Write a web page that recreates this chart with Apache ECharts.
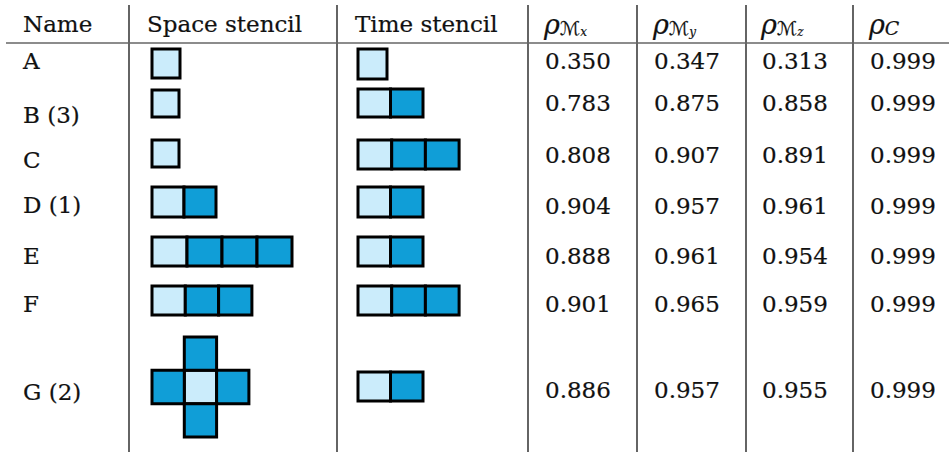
<!DOCTYPE html>
<html>
<head>
<meta charset="utf-8">
<script src="https://cdn.jsdelivr.net/npm/echarts@6/dist/echarts.min.js"></script>
<style>
html,body{margin:0;padding:0;background:#fff;}
#chart{width:949px;height:452px;}
</style>
</head>
<body>
<div id="chart"></div>
<script>
// ---------------- DATA ----------------
const headers = ['Name', 'Space stencil', 'Time stencil'];
const rhoSymbols = ['ℳ', 'ℳ', 'ℳ', 'C'];
const rhoSubs = ['x', 'y', 'z', ''];
const names = ['A', 'B (3)', 'C', 'D (1)', 'E', 'F', 'G (2)'];
const rhoMx = [0.350, 0.783, 0.808, 0.904, 0.888, 0.901, 0.886];
const rhoMy = [0.347, 0.875, 0.907, 0.957, 0.961, 0.965, 0.957];
const rhoMz = [0.313, 0.858, 0.891, 0.961, 0.954, 0.959, 0.955];
const rhoC  = [0.999, 0.999, 0.999, 0.999, 0.999, 0.999, 0.999];
// space stencil cells as [dx, dy] offsets; [0,0] is the centre cell
const spaceStencils = [
  [[0, 0]],
  [[0, 0]],
  [[0, 0]],
  [[0, 0], [1, 0]],
  [[0, 0], [1, 0], [2, 0], [3, 0]],
  [[0, 0], [1, 0], [2, 0]],
  [[0, 0], [-1, 0], [1, 0], [0, -1], [0, 1]]
];
// time stencil: number of time levels (current + previous)
const timeStencilLen = [1, 2, 3, 2, 2, 3, 2];

// ---------------- LAYOUT ----------------
const W = 949, H = 452;
const colLines = [129, 337, 528, 637, 746, 853];
const ruleTop = 5;
const headerRuleY = 43;
const headerY = 24;
const textX = [23, 147, 355];
const numX = [545, 654, 762, 870];
const rowNameY = [61, 115, 160, 205, 255.5, 303.5, 391.5];
const rowNumY = [61, 103, 155, 206, 256, 304, 390];
const spaceLeft = 152, timeLeft = 358;
// [cellWidth, cellHeight, centreY]
const spaceCell = [[28, 29, 63.5], [27, 27, 103.5], [27, 27, 153.5], [32, 30, 202], [35, 29, 251.5], [33.3, 29, 300.5], [32.3, 33.3, 387]];
const timeCell = [[29, 30, 64], [32.5, 28, 103], [33.7, 29, 154.5], [32.5, 30, 202], [32.5, 29, 251.5], [33.7, 29, 300.5], [32.5, 29, 386.5]];

const FONT = '"DejaVu Serif", serif';
const FS = 23;
const INK = '#111111';
const LIGHT = '#cbecfb';
const DARK = '#109ed7';

// ---------------- BUILD ----------------
const cells = [];
spaceStencils.forEach((st, r) => {
  const [w, h, cy] = spaceCell[r];
  const minDx = Math.min(...st.map(c => c[0]));
  st.forEach(([dx, dy]) => {
    cells.push([spaceLeft + (dx - minDx) * w, cy + dy * h - h / 2, w, h, (dx === 0 && dy === 0) ? 0 : 1]);
  });
});
timeStencilLen.forEach((n, r) => {
  const [w, h, cy] = timeCell[r];
  for (let k = 0; k < n; k++) {
    cells.push([timeLeft + k * w, cy - h / 2, w, h, k === 0 ? 0 : 1]);
  }
});

const texts = [];
headers.forEach((t, i) => texts.push({x: textX[i], y: headerY, text: t}));
names.forEach((t, r) => texts.push({x: textX[0], y: rowNameY[r], text: t}));
[rhoMx, rhoMy, rhoMz, rhoC].forEach((arr, c) => {
  arr.forEach((v, r) => texts.push({x: numX[c], y: rowNumY[r], text: v.toFixed(3)}));
});
rhoSymbols.forEach((s, c) => {
  texts.push({
    x: numX[c] - 1, y: headerY,
    text: '{r|ρ}{m|' + s + '}' + (rhoSubs[c] ? '{s|' + rhoSubs[c] + '}' : ''),
    rich: true
  });
});

const richStyles = {
  r: {fontFamily: FONT, fontStyle: 'italic', fontSize: 27, fill: INK},
  m: {fontFamily: '"DejaVu Serif", "DejaVu Sans", serif', fontStyle: 'italic', fontSize: 19, fill: INK, verticalAlign: 'bottom', lineHeight: 19},
  s: {fontFamily: FONT, fontStyle: 'italic', fontSize: 12, fill: INK, verticalAlign: 'bottom', lineHeight: 12}
};

const chart = echarts.init(document.getElementById('chart'), null, {renderer: 'svg'});
chart.setOption({
  backgroundColor: '#ffffff',
  animation: false,
  grid: {left: 0, right: 0, top: 0, bottom: 0},
  xAxis: {type: 'value', min: 0, max: W, show: false},
  yAxis: {type: 'value', min: 0, max: H, inverse: true, show: false},
  series: [
    {
      type: 'custom', name: 'columnRules', silent: true,
      data: colLines.map(x => [x]),
      renderItem: (params, api) => {
        const x = api.value(0);
        const p1 = api.coord([x, ruleTop]);
        const p2 = api.coord([x, H]);
        return {type: 'line', shape: {x1: p1[0], y1: p1[1], x2: p2[0], y2: p2[1]}, style: {stroke: '#111', lineWidth: 1.3}};
      }
    },
    {
      type: 'custom', name: 'headerRule', silent: true,
      data: [[headerRuleY]],
      renderItem: (params, api) => {
        const y = api.value(0);
        const p1 = api.coord([6, y]);
        const p2 = api.coord([W, y]);
        return {type: 'line', shape: {x1: p1[0], y1: p1[1], x2: p2[0], y2: p2[1]}, style: {stroke: '#666', lineWidth: 1.4}};
      }
    },
    {
      type: 'custom', name: 'stencils', silent: true,
      data: cells,
      renderItem: (params, api) => {
        const p = api.coord([api.value(0), api.value(1)]);
        const s = api.size([api.value(2), api.value(3)]);
        return {
          type: 'rect',
          shape: {x: p[0], y: p[1], width: Math.abs(s[0]), height: Math.abs(s[1])},
          style: {fill: api.value(4) === 0 ? LIGHT : DARK, stroke: '#000', lineWidth: 3}
        };
      }
    },
    {
      type: 'custom', name: 'texts', silent: true,
      data: texts.map((t, i) => [t.x, t.y, i]),
      renderItem: (params, api) => {
        const t = texts[api.value(2)];
        const p = api.coord([api.value(0), api.value(1)]);
        const style = {
          text: t.text, x: p[0], y: p[1],
          fontFamily: FONT, fontSize: FS, fill: INK,
          stroke: INK, lineWidth: 0.2,
          align: 'left', verticalAlign: 'middle',
          textAlign: 'left', textVerticalAlign: 'middle'
        };
        if (t.rich) style.rich = richStyles;
        return {type: 'text', style: style};
      }
    }
  ]
});
</script>
</body>
</html>
